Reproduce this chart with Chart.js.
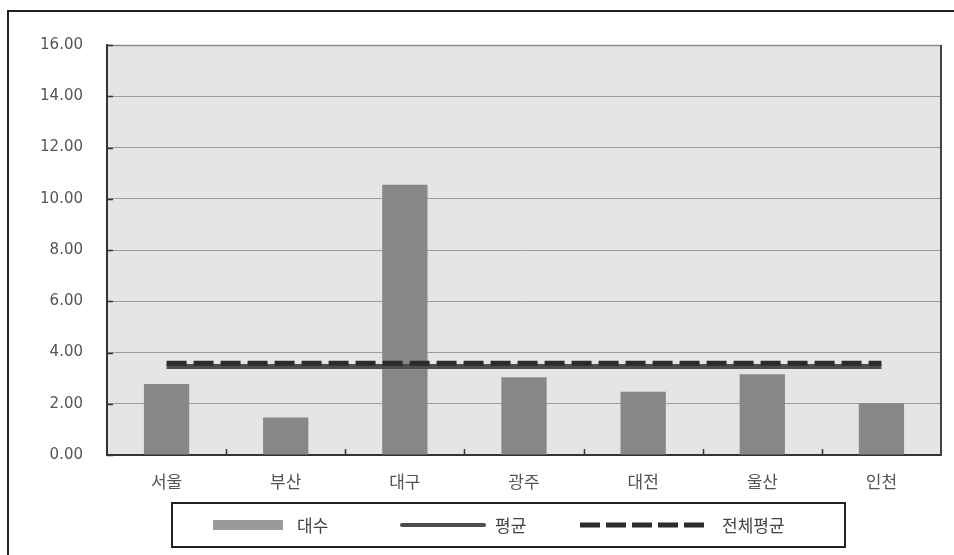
<!DOCTYPE html>
<html>
<head>
<meta charset="utf-8">
<script src="https://cdn.jsdelivr.net/npm/chart.js@4/dist/chart.umd.min.js"></script>
<style>
  html, body { margin: 0; padding: 0; background: #ffffff; }
  #wrap { width: 954px; height: 555px; position: relative; }
</style>
</head>
<body>
<div id="wrap"><canvas id="c" width="954" height="555"></canvas></div>
<script>
const categories = ['서울', '부산', '대구', '광주', '대전', '울산', '인천'];
const countValues = [2.77, 1.46, 10.55, 3.03, 2.47, 3.15, 2.02];
const avgValues = [3.45, 3.45, 3.45, 3.45, 3.45, 3.45, 3.45];
const totalAvgValues = [3.58, 3.58, 3.58, 3.58, 3.58, 3.58, 3.58];
const yTickValues = [0, 2, 4, 6, 8, 10, 12, 14, 16];
const seriesNames = ['대수', '평균', '전체평균'];

const frameColor = '#222222';

const decorPlugin = {
  id: 'decor',
  beforeDraw(chart) {
    const ctx = chart.ctx;
    const a = chart.chartArea;
    ctx.save();
    ctx.fillStyle = '#ffffff';
    ctx.fillRect(0, 0, chart.width, chart.height);
    ctx.fillStyle = '#e5e5e5';
    ctx.fillRect(a.left, a.top, a.right - a.left, a.bottom - a.top);
    // outer frame
    ctx.strokeStyle = frameColor;
    ctx.lineWidth = 2;
    ctx.beginPath();
    ctx.moveTo(8, chart.height + 2);
    ctx.lineTo(8, 11);
    ctx.lineTo(chart.width + 2, 11);
    ctx.stroke();
    ctx.restore();
  },
  afterDraw(chart) {
    const ctx = chart.ctx;
    const a = chart.chartArea;
    const xs = chart.scales.x, ys = chart.scales.y;
    ctx.save();
    // plot border top/right
    ctx.strokeStyle = '#8a8a8a';
    ctx.lineWidth = 1.5;
    ctx.beginPath();
    ctx.moveTo(a.left, a.top + 0.5);
    ctx.lineTo(a.right, a.top + 0.5);
    ctx.stroke();
    ctx.strokeStyle = '#444444';
    ctx.lineWidth = 2;
    ctx.beginPath();
    ctx.moveTo(a.right, a.top);
    ctx.lineTo(a.right, a.bottom);
    ctx.stroke();
    // inward ticks
    ctx.strokeStyle = '#333333';
    ctx.lineWidth = 1.5;
    ctx.beginPath();
    ys.ticks.forEach((t) => {
      const y = Math.round(ys.getPixelForValue(t.value)) + 0.5;
      ctx.moveTo(a.left, y);
      ctx.lineTo(a.left + 6, y);
    });
    for (let i = 1; i < categories.length; i++) {
      const x = Math.round((xs.getPixelForValue(i - 1) + xs.getPixelForValue(i)) / 2) + 0.5;
      ctx.moveTo(x, a.bottom);
      ctx.lineTo(x, a.bottom - 6);
    }
    ctx.stroke();

    // legend box
    const lx = 172, ly = 503, lw = 673, lh = 44;
    ctx.strokeStyle = frameColor;
    ctx.lineWidth = 2;
    ctx.strokeRect(lx, ly, lw, lh);
    const ds = chart.data.datasets;
    const cy = ly + lh / 2;
    ctx.font = '17px "Noto Sans CJK KR"';
    ctx.fillStyle = '#444444';
    ctx.textBaseline = 'middle';
    ctx.textAlign = 'left';
    // bar swatch
    ctx.fillStyle = '#9a9a9a';
    ctx.fillRect(213, cy - 5, 70, 10);
    ctx.fillStyle = '#444444';
    ctx.fillText(ds[0].label, 297, cy + 1);
    // solid line swatch
    ctx.strokeStyle = ds[1].borderColor;
    ctx.lineWidth = 4;
    ctx.lineCap = 'round';
    ctx.setLineDash([]);
    ctx.beginPath();
    ctx.moveTo(402, cy);
    ctx.lineTo(484, cy);
    ctx.stroke();
    ctx.fillText(ds[1].label, 495, cy + 1);
    // dashed swatch
    ctx.strokeStyle = ds[2].borderColor;
    ctx.lineWidth = 5;
    ctx.lineCap = 'butt';
    ctx.setLineDash([20, 6]);
    ctx.beginPath();
    ctx.moveTo(580, cy);
    ctx.lineTo(707, cy);
    ctx.stroke();
    ctx.setLineDash([]);
    ctx.fillText(ds[2].label, 722, cy + 1);
    ctx.restore();
  }
};

new Chart(document.getElementById('c'), {
  type: 'bar',
  data: {
    labels: categories,
    datasets: [
      {
        type: 'bar',
        label: seriesNames[0],
        data: countValues,
        backgroundColor: '#878787',
        borderWidth: 0,
        categoryPercentage: 1.0,
        barPercentage: 0.38,
        order: 3
      },
      {
        type: 'line',
        label: seriesNames[1],
        data: avgValues,
        borderColor: '#4d4d4d',
        borderWidth: 5,
        pointRadius: 0,
        fill: false,
        order: 2
      },
      {
        type: 'line',
        label: seriesNames[2],
        data: totalAvgValues,
        borderColor: '#2b2b2b',
        borderWidth: 5,
        borderDash: [20, 7],
        pointRadius: 0,
        fill: false,
        order: 1
      }
    ]
  },
  options: {
    responsive: false,
    animation: false,
    devicePixelRatio: 1,
    layout: { padding: { left: 8, right: 13, top: 45, bottom: 55 } },
    plugins: {
      legend: { display: false },
      tooltip: { enabled: false },
      title: { display: false }
    },
    scales: {
      x: {
        type: 'category',
        offset: true,
        grid: { display: false, drawTicks: false },
        border: { display: true, color: '#333333', width: 2 },
        ticks: {
          color: '#555555',
          font: { family: '"Noto Sans CJK KR"', size: 17 },
          padding: 16,
          maxRotation: 0
        },
        afterFit(scale) { scale.height = 45; }
      },
      y: {
        type: 'linear',
        min: 0,
        max: 16,
        afterBuildTicks(scale) {
          scale.ticks = yTickValues.map((v) => ({ value: v }));
        },
        grid: { color: '#9c9c9c', lineWidth: 1, drawTicks: false },
        border: { display: true, color: '#333333', width: 2 },
        ticks: {
          color: '#555555',
          font: { family: '"DejaVu Sans"', size: 15 },
          padding: 24,
          callback: (v) => Number(v).toFixed(2)
        },
        afterFit(scale) { scale.width = 99; }
      }
    }
  },
  plugins: [decorPlugin]
});
</script>
</body>
</html>
